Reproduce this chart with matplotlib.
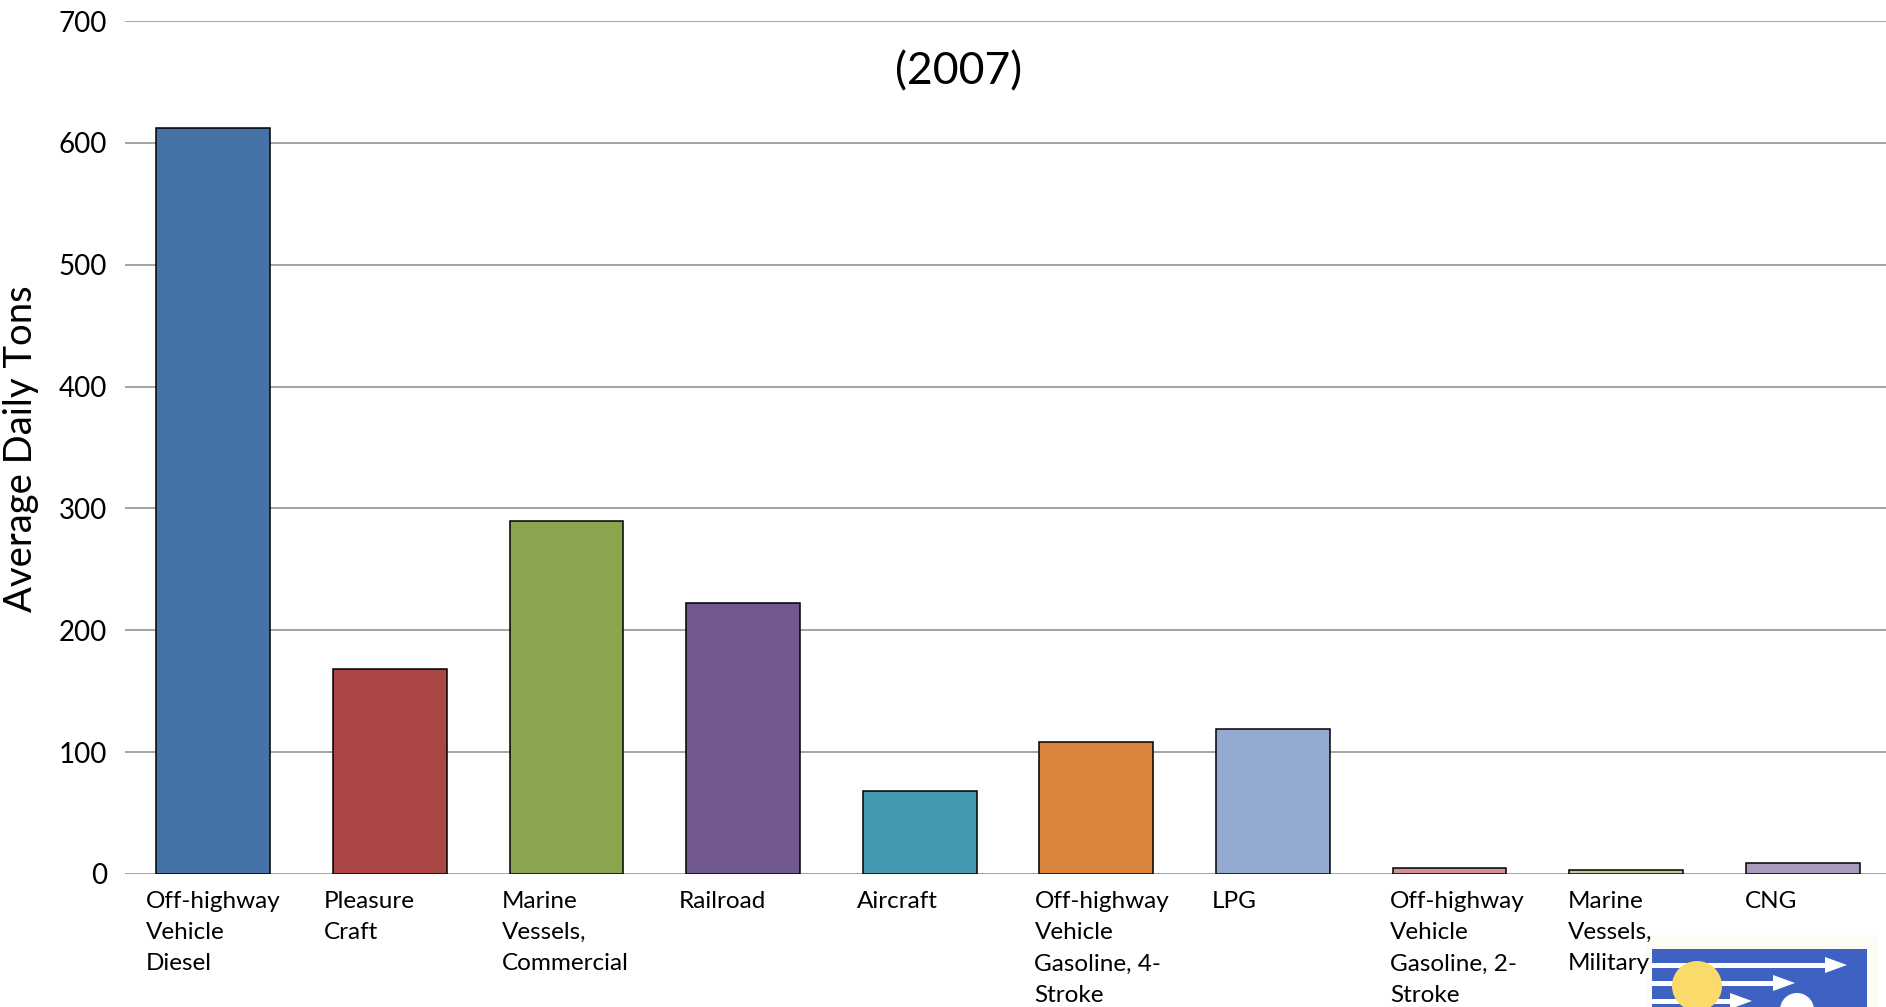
import numpy as np
import matplotlib.pyplot as plt
from matplotlib.patches import Rectangle, Circle, Polygon
from matplotlib.transforms import blended_transform_factory

plt.rcParams['font.family'] = ['Lato', 'DejaVu Sans']

# average daily tons per nonroad source category, 2007
categories = ['Off-highway\nVehicle\nDiesel', 'Pleasure\nCraft', 'Marine\nVessels,\nCommercial',
              'Railroad', 'Aircraft', 'Off-highway\nVehicle\nGasoline, 4-\nStroke', 'LPG',
              'Off-highway\nVehicle\nGasoline, 2-\nStroke', 'Marine\nVessels,\nMilitary', 'CNG']
tons = [612, 168, 290, 222, 68, 108, 119, 5, 3.5, 9]
colors = ['#4572A7', '#AA4643', '#89A54E', '#71588F', '#4198AF',
          '#DB843D', '#93A9CF', '#D19392', '#B9CD96', '#A99BBD']
yticks = [0, 100, 200, 300, 400, 500, 600, 700]

W, H = 1886, 1007
fig = plt.figure(figsize=(W / 100, H / 100), dpi=100)
# plot area runs a little past the right edge of the page
ax = fig.add_axes([125 / W, 1 - 874 / H, (1891 - 125) / W, (874 - 21) / H])

x = np.arange(len(categories))
ax.bar(x, tons, width=0.645, color=colors, edgecolor='black', linewidth=1.1, zorder=3)

ax.set_xlim(-0.5, len(categories) - 0.5)
ax.set_ylim(0, 700)
ax.set_yticks(yticks)
ax.set_yticklabels([str(v) for v in yticks], fontsize=20)
ax.tick_params(axis='y', length=0, pad=13)
ax.set_xticks([])
for s in ax.spines.values():
    s.set_visible(False)
ax.grid(axis='y', color='#8c8c8c', linewidth=1.1, zorder=0)

ax.text(0.472, 0.94, '(2007)', transform=ax.transAxes, ha='center', va='center', fontsize=32)
fig.text(21 / W, 1 - 449 / H, 'Average Daily Tons', rotation=90, ha='center', va='center', fontsize=27.5)

# agency logo, clipped at the page corner
lg = fig.add_axes([0, 0, 1, 1], zorder=10)
lg.set_xlim(0, W)
lg.set_ylim(H, 0)
lg.axis('off')
lg.patch.set_alpha(0)
lg.add_patch(Rectangle((1645, 935), 232, 80, facecolor='#fdfcf4', edgecolor='none'))
lg.add_patch(Rectangle((1652, 949), 215, 70, facecolor='#3d62c4', edgecolor='none'))
for yy, xend in [(965, 1847), (983, 1795), (1001, 1752)]:
    lg.add_patch(Rectangle((1652, yy - 2.5), xend - 20 - 1652, 5, facecolor='white', edgecolor='none'))
    lg.add_patch(Polygon([(xend - 22, yy - 8), (xend, yy), (xend - 22, yy + 8)],
                         closed=True, facecolor='white', edgecolor='none'))
lg.add_patch(Circle((1697, 986), 25, facecolor='#fadb6a', edgecolor='none'))
lg.add_patch(Circle((1797, 1010), 17, facecolor='white', edgecolor='none'))

# wrapped category names, left-aligned under each bar (drawn above the logo)
trans = blended_transform_factory(ax.transData, ax.transAxes)
for i, name in enumerate(categories):
    fig.text(i * 1.006 - 0.38, -0.02, name, transform=trans, ha='left', va='top',
             fontsize=17.5, linespacing=1.6, zorder=11)

fig.savefig('out.png', dpi=100)
